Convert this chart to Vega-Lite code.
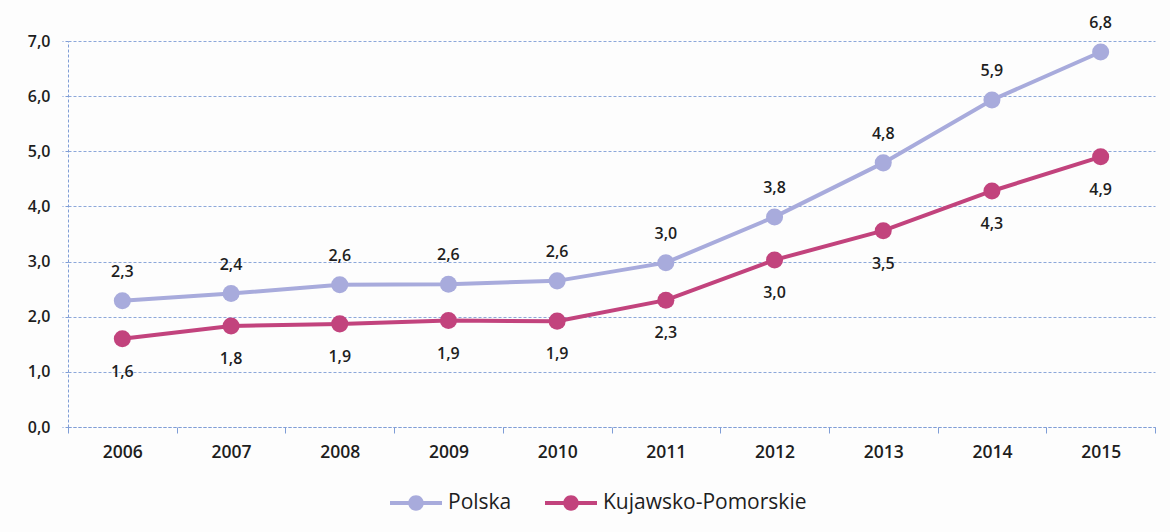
{
  "$schema": "https://vega.github.io/schema/vega-lite/v6.json",
  "width": 1087,
  "height": 386,
  "autosize": {"type": "none"},
  "padding": {"left": 68, "top": 41, "right": 15, "bottom": 105},
  "background": "#fdfdfd",
  "config": {
    "view": {"stroke": null},
    "font": "Open Sans"
  },
  "data": {
    "values": [
      {"year": "2006", "series": "Polska", "value": 2.29, "label": "2,3"},
      {"year": "2007", "series": "Polska", "value": 2.42, "label": "2,4"},
      {"year": "2008", "series": "Polska", "value": 2.58, "label": "2,6"},
      {"year": "2009", "series": "Polska", "value": 2.59, "label": "2,6"},
      {"year": "2010", "series": "Polska", "value": 2.65, "label": "2,6"},
      {"year": "2011", "series": "Polska", "value": 2.98, "label": "3,0"},
      {"year": "2012", "series": "Polska", "value": 3.81, "label": "3,8"},
      {"year": "2013", "series": "Polska", "value": 4.79, "label": "4,8"},
      {"year": "2014", "series": "Polska", "value": 5.93, "label": "5,9"},
      {"year": "2015", "series": "Polska", "value": 6.8, "label": "6,8"},
      {"year": "2006", "series": "Kujawsko-Pomorskie", "value": 1.6, "label": "1,6"},
      {"year": "2007", "series": "Kujawsko-Pomorskie", "value": 1.83, "label": "1,8"},
      {"year": "2008", "series": "Kujawsko-Pomorskie", "value": 1.87, "label": "1,9"},
      {"year": "2009", "series": "Kujawsko-Pomorskie", "value": 1.93, "label": "1,9"},
      {"year": "2010", "series": "Kujawsko-Pomorskie", "value": 1.92, "label": "1,9"},
      {"year": "2011", "series": "Kujawsko-Pomorskie", "value": 2.3, "label": "2,3"},
      {"year": "2012", "series": "Kujawsko-Pomorskie", "value": 3.03, "label": "3,0"},
      {"year": "2013", "series": "Kujawsko-Pomorskie", "value": 3.56, "label": "3,5"},
      {"year": "2014", "series": "Kujawsko-Pomorskie", "value": 4.28, "label": "4,3"},
      {"year": "2015", "series": "Kujawsko-Pomorskie", "value": 4.9, "label": "4,9"}
    ]
  },
  "encoding": {
    "x": {
      "field": "year",
      "type": "ordinal",
      "scale": {"paddingInner": 0, "paddingOuter": 0},
      "axis": {
        "title": null,
        "labelAngle": 0,
        "labelFont": "Open Sans",
        "labelFontWeight": 600,
        "labelFontSize": 17.5,
        "labelColor": "#1e1e1e",
        "labelPadding": 10,
        "domainColor": "#7f9dd6",
        "domainDash": [3, 2],
        "domainWidth": 1,
        "tickColor": "#7f9dd6",
        "tickSize": 6,
        "tickBand": "extent",
        "grid": false
      }
    },
    "y": {
      "field": "value",
      "type": "quantitative",
      "scale": {"domain": [0, 7], "nice": false},
      "axis": {
        "title": null,
        "values": [0, 1, 2, 3, 4, 5, 6, 7],
        "labelExpr": "replace(format(datum.value, '.1f'), '.', ',')",
        "labelFont": "Open Sans",
        "labelFontWeight": 600,
        "labelFontSize": 16,
        "labelColor": "#1e1e1e",
        "labelPadding": 12,
        "domainColor": "#7f9dd6",
        "domainDash": [3, 2],
        "tickColor": "#7f9dd6",
        "tickDash": [3, 2],
        "tickSize": 6,
        "grid": true,
        "gridColor": "#7f9dd6",
        "gridDash": [3, 2],
        "gridWidth": 1,
        "gridOpacity": 0.9
      }
    },
    "color": {
      "field": "series",
      "type": "nominal",
      "scale": {
        "domain": ["Polska", "Kujawsko-Pomorskie"],
        "range": ["#a8abdc", "#c2437d"]
      },
      "legend": {
        "title": null,
        "orient": "none",
        "legendX": 322,
        "legendY": 436,
        "direction": "horizontal",
        "symbolType": "M-1,-0.08 L1,-0.08 L1,0.08 L-1,0.08 Z M-0.3,0 A0.3,0.3 0 1,1 0.3,0 A0.3,0.3 0 1,1 -0.3,0 Z",
        "symbolSize": 2704,
        "symbolStrokeWidth": 0,
        "labelFont": "Open Sans",
        "labelFontSize": 21,
        "labelColor": "#1e1e1e",
        "labelOffset": 6,
        "labelLimit": 0,
        "columnPadding": 33
      }
    }
  },
  "layer": [
    {
      "mark": {"type": "line", "strokeWidth": 4}
    },
    {
      "mark": {"type": "point", "filled": true, "size": 290, "opacity": 1}
    },
    {
      "transform": [{"filter": "datum.series == 'Polska'"}],
      "mark": {"type": "text", "dy": -29, "fontSize": 16, "fontWeight": 600, "font": "Open Sans"},
      "encoding": {"text": {"field": "label"}, "color": {"value": "#1e1e1e"}}
    },
    {
      "transform": [{"filter": "datum.series == 'Kujawsko-Pomorskie'"}],
      "mark": {"type": "text", "dy": 33, "fontSize": 16, "fontWeight": 600, "font": "Open Sans"},
      "encoding": {"text": {"field": "label"}, "color": {"value": "#1e1e1e"}}
    }
  ]
}
